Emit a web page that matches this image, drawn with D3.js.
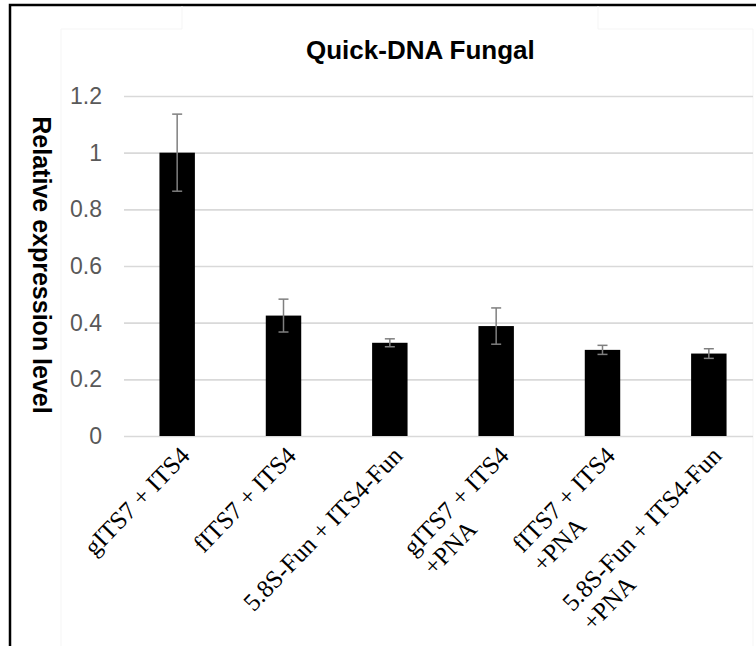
<!DOCTYPE html>
<html>
<head>
<meta charset="utf-8">
<script src="https://cdn.jsdelivr.net/npm/d3@7"></script>
<style>
  body { margin: 0; background: #fff; }
  svg { display: block; }
</style>
</head>
<body>
<svg width="756" height="646"></svg>
<script>
// chart data
var categories = ["gITS7 + ITS4", "fITS7 + ITS4", "5.8S-Fun + ITS4-Fun",
                  "gITS7 + ITS4\n+PNA", "fITS7 + ITS4\n+PNA", "5.8S-Fun + ITS4-Fun\n+PNA"];
var values = [1.0, 0.425, 0.329, 0.388, 0.304, 0.291];
var errors = [0.136, 0.058, 0.014, 0.064, 0.016, 0.017];
var yTicks = [0, 0.2, 0.4, 0.6, 0.8, 1, 1.2];

var svg = d3.select("svg");

// outer frame (runs off the page on the right and bottom)
svg.append("rect")
   .attr("x", 10).attr("y", 5)
   .attr("width", 800).attr("height", 700)
   .attr("fill", "none")
   .attr("stroke", "#000")
   .attr("stroke-width", 2.5);

// faint leftover boxes at the top
svg.append("path")
   .attr("d", "M182,6V29H61V646 M598,6V29H753V646")
   .attr("fill", "none")
   .attr("stroke", "#f5f5f5")
   .attr("stroke-width", 1);

var xScale = d3.scaleBand().domain(categories).range([124, 762]).padding(0),
    yScale = d3.scaleLinear().domain([0, 1.2]).range([436, 96]);

var barW = xScale.bandwidth() / 3;

// gridlines + y labels
var grid = svg.append("g")
   .attr("transform", "translate(124,0)")
   .call(d3.axisLeft(yScale).tickValues(yTicks).tickSize(-629).tickPadding(22)
           .tickFormat(function(d) { return d; }));
grid.select(".domain").remove();
grid.selectAll("line").attr("stroke", "#d9d9d9").attr("stroke-width", 1.6);
grid.selectAll("text")
    .attr("fill", "#595959")
    .style("font-family", "Arial, 'Liberation Sans', sans-serif")
    .style("font-size", "23px");

// bars
svg.selectAll(".bar")
   .data(values)
   .enter().append("rect")
   .attr("class", "bar")
   .attr("x", function(d, i) { return xScale(categories[i]) + barW; })
   .attr("y", function(d) { return yScale(d); })
   .attr("width", barW)
   .attr("height", function(d) { return yScale(0) - yScale(d); })
   .attr("fill", "#000");

// error bars
var eb = svg.selectAll(".err")
   .data(values)
   .enter().append("g")
   .attr("class", "err")
   .attr("stroke", "#7f7f7f")
   .attr("stroke-width", 1.5);
eb.append("line")
  .attr("x1", function(d, i) { return xScale(categories[i]) + xScale.bandwidth() / 2; })
  .attr("x2", function(d, i) { return xScale(categories[i]) + xScale.bandwidth() / 2; })
  .attr("y1", function(d, i) { return yScale(d + errors[i]); })
  .attr("y2", function(d, i) { return yScale(d - errors[i]); });
[1, -1].forEach(function(s) {
  eb.append("line")
    .attr("x1", function(d, i) { return xScale(categories[i]) + xScale.bandwidth() / 2 - 5; })
    .attr("x2", function(d, i) { return xScale(categories[i]) + xScale.bandwidth() / 2 + 5; })
    .attr("y1", function(d, i) { return yScale(d + s * errors[i]); })
    .attr("y2", function(d, i) { return yScale(d + s * errors[i]); });
});

// x labels, rotated
var lab = svg.selectAll(".xlab")
   .data(categories)
   .enter().append("text")
   .attr("class", "xlab")
   .attr("transform", function(d) {
     return "translate(" + (xScale(d) + xScale.bandwidth() / 2 + 14) + "," + 457 + ") rotate(-46)";
   })
   .style("font-family", "'Times New Roman', 'Liberation Serif', serif")
   .style("font-size", "25px")
   .attr("fill", "#000");
lab.each(function(d) {
  var t = d3.select(this), lines = d.split("\n");
  var first = t.append("tspan").attr("x", 0).attr("y", 0).attr("text-anchor", "end").text(lines[0]);
  if (lines.length > 1) {
    var len = first.node().getComputedTextLength();
    t.append("tspan").attr("x", -len).attr("y", 28).attr("text-anchor", "start").text(lines[1]);
  }
});

// title
svg.append("text")
   .attr("x", 306).attr("y", 59)
   .style("font-family", "Arial, 'Liberation Sans', sans-serif")
   .style("font-weight", "bold")
   .style("font-size", "26px")
   .text("Quick-DNA Fungal");

// y axis title
svg.append("text")
   .attr("transform", "translate(42,265) rotate(90)")
   .attr("text-anchor", "middle")
   .attr("dy", "0.35em")
   .style("font-family", "Arial, 'Liberation Sans', sans-serif")
   .style("font-weight", "bold")
   .style("font-size", "25px")
   .text("Relative expression level");
</script>
</body>
</html>
